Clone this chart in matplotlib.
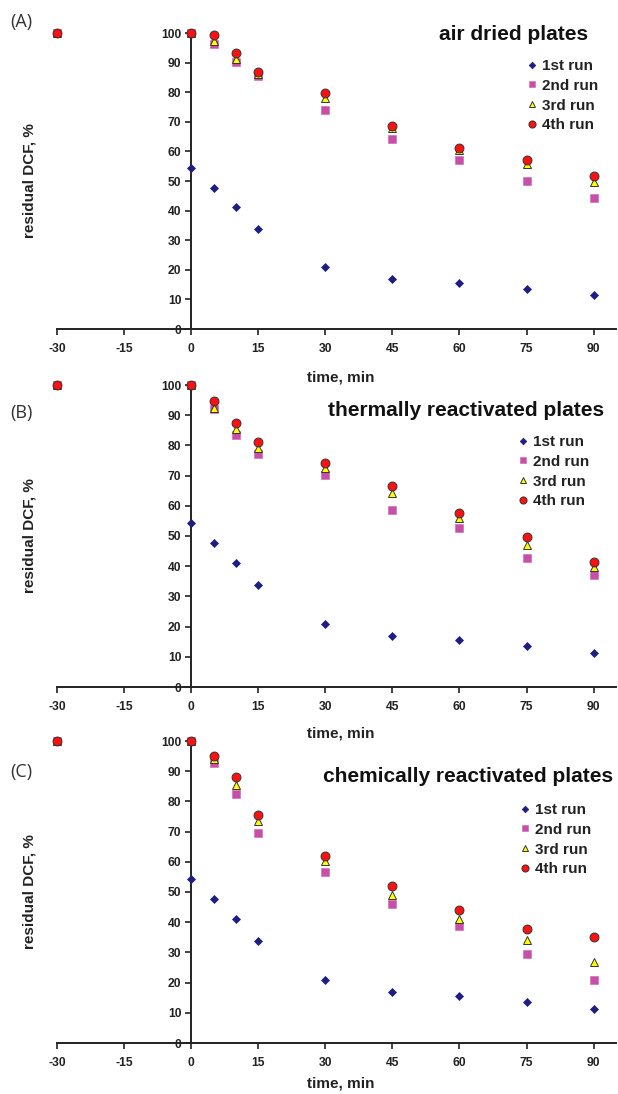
import matplotlib
matplotlib.use("Agg")
import matplotlib.pyplot as plt
from matplotlib.lines import Line2D

plt.rcParams['font.family'] = ['Liberation Sans', 'DejaVu Sans']
plt.rcParams['axes.unicode_minus'] = False

# time points (min); -30 is the starting reference
TIME = [-30, 0, 5, 10, 15, 30, 45, 60, 75, 90]

RUN1 = [100, 54.3, 47.7, 41.2, 33.7, 21.0, 16.9, 15.7, 13.5, 11.4]

AIR_RUN2 = [100, 100, 96.2, 90.1, 85.5, 74.1, 64.2, 57.0, 50.0, 44.4]
AIR_RUN3 = [100, 100, 97.4, 91.3, 86.3, 78.1, 68.0, 60.5, 55.7, 49.5]
AIR_RUN4 = [100, 100, 99.4, 93.1, 86.8, 79.8, 68.6, 61.1, 57.1, 51.7]

THERM_RUN2 = [100, 100, 92.0, 83.4, 77.1, 70.2, 58.7, 52.5, 42.6, 37.0]
THERM_RUN3 = [100, 100, 92.5, 85.5, 79.0, 72.5, 64.2, 56.0, 47.0, 39.6]
THERM_RUN4 = [100, 100, 94.8, 87.5, 81.1, 74.3, 66.4, 57.5, 49.6, 41.4]

CHEM_RUN2 = [100, 100, 92.8, 82.5, 69.6, 56.5, 46.0, 38.9, 29.6, 20.9]
CHEM_RUN3 = [100, 100, 94.0, 85.5, 73.6, 60.4, 48.9, 41.1, 34.2, 26.7]
CHEM_RUN4 = [100, 100, 95.1, 88.2, 75.5, 62.0, 52.1, 44.1, 37.6, 35.1]

PANELS = [
    ("(A)", "air dried plates", AIR_RUN2, AIR_RUN3, AIR_RUN4),
    ("(B)", "thermally reactivated plates", THERM_RUN2, THERM_RUN3, THERM_RUN4),
    ("(C)", "chemically reactivated plates", CHEM_RUN2, CHEM_RUN3, CHEM_RUN4),
]
RUN_LABELS = ["1st run", "2nd run", "3rd run", "4th run"]
X_TICKS = [-30, -15, 0, 15, 30, 45, 60, 75, 90]
Y_TICKS = [0, 10, 20, 30, 40, 50, 60, 70, 80, 90, 100]

STYLES = [
    dict(marker="D", color="#1e1e82", markersize=4.2, markeredgecolor="#1e1e82", markeredgewidth=0.5),
    dict(marker="s", color="#c84fa8", markersize=6.2, markeredgecolor="#d070b8", markeredgewidth=0.5),
    dict(marker="^", color="#ffff00", markersize=6.2, markeredgecolor="#333333", markeredgewidth=0.7),
    dict(marker="o", color="#ff1010", markersize=6.4, markeredgecolor="#333333", markeredgewidth=0.7),
]

W, H = 618, 1094
fig = plt.figure(figsize=(W / 100, H / 100), dpi=100)

# pixel geometry of each panel: (y of 100, y of 0, title right/x, title y, legend top, legend left, tag y, xlabel y)
GEOM = [
    (33, 329, 588, 34, 59, 527, 22, 377),
    (385, 687, 604, 410, 435, 518, 413, 734),
    (741, 1043, 613, 776, 803, 520, 772, 1084),
]

for (tag, title, r2, r3, r4), (ytop, ybot, tx, ty, ltop, lleft, tagy, xly) in zip(PANELS, GEOM):
    ax = fig.add_axes([57 / W, 1 - ybot / H, (616 - 57) / W, (ybot - ytop) / H])
    ax.set_xlim(-30, 95)
    ax.set_ylim(0, 100)
    for series, st in zip([RUN1, r2, r3, r4], STYLES):
        ax.plot(TIME, series, linestyle="none", clip_on=False, zorder=3, **st)

    ax.spines["top"].set_visible(False)
    ax.spines["right"].set_visible(False)
    ax.spines["left"].set_position(("data", 0))
    ax.spines["left"].set_linewidth(1.4)
    ax.spines["bottom"].set_linewidth(1.4)
    ax.spines["left"].set_color("#222222")
    ax.spines["bottom"].set_color("#222222")
    ax.set_xticks(X_TICKS)
    ax.set_yticks(Y_TICKS)
    ax.tick_params(axis="x", direction="out", length=4, width=1.2, pad=6, labelsize=8.7, colors="#222222")
    ax.tick_params(axis="y", direction="out", length=4, width=1.2, pad=3, labelsize=8.7, colors="#222222")
    for lab in ax.get_xticklabels() + ax.get_yticklabels():
        lab.set_fontweight("bold")

    fig.text(30 / W, 1 - (ytop + ybot) / 2 / H, "residual DCF, %", rotation=90,
             ha="center", va="center", fontsize=11, fontweight="bold", color="#222222")
    fig.text(341 / W, 1 - xly / H, "time, min", ha="center", va="center",
             fontsize=11, fontweight="bold", color="#222222")
    fig.text(tx / W, 1 - ty / H, title, ha="right", va="center", fontsize=15,
             fontweight="bold", color="#111111")
    fig.text(10 / W, 1 - tagy / H, tag, ha="left", va="center", fontsize=13,
             color="#333333", fontfamily=["Open Sans", "DejaVu Sans"])

    handles = [Line2D([], [], linestyle="none", **st) for st in STYLES]
    leg = ax.legend(handles, RUN_LABELS, loc="upper left",
                    bbox_to_anchor=(lleft / W, 1 - ltop / H), bbox_transform=fig.transFigure,
                    frameon=False, borderpad=0, borderaxespad=0, handlelength=0.7,
                    handletextpad=0.3, labelspacing=0.38, markerscale=0.8,
                    prop=dict(size=11, weight="bold"))
    for t in leg.get_texts():
        t.set_color("#222222")

fig.savefig("out.png", dpi=100)
